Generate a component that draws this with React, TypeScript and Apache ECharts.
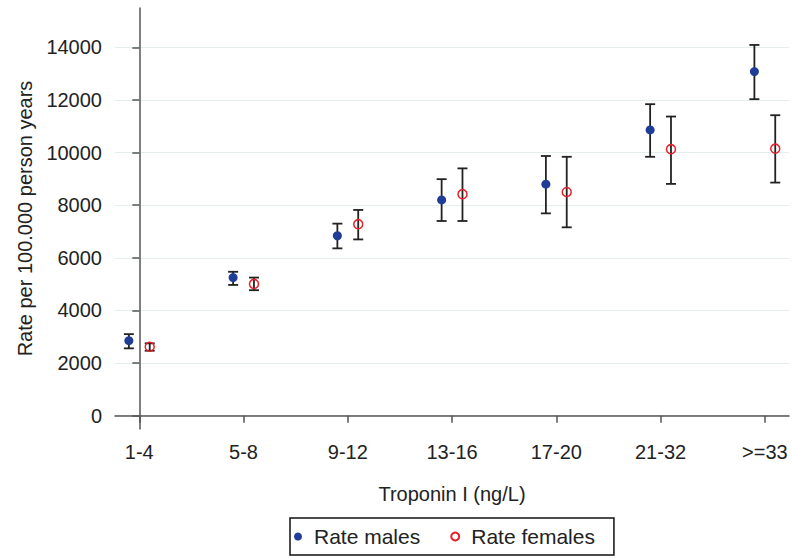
import React, { useEffect, useRef } from "react";
import * as echarts from "echarts";

const categories = ["1-4", "5-8", "9-12", "13-16", "17-20", "21-32", ">=33"];
const maleRate = [2850, 5250, 6840, 8200, 8800, 10860, 13080];
const maleLow = [2560, 4970, 6360, 7400, 7690, 9840, 12030];
const maleHigh = [3100, 5470, 7300, 8990, 9870, 11840, 14090];
const femaleRate = [2620, 5010, 7280, 8420, 8500, 10130, 10150];
const femaleLow = [2470, 4770, 6700, 7400, 7160, 8810, 8860];
const femaleHigh = [2750, 5250, 7820, 9400, 9840, 11370, 11420];
const yTicks = [0, 2000, 4000, 6000, 8000, 10000, 12000, 14000];
const xTicks = [0, 1, 2, 3, 4, 5, 6];

const MALE_OFFSET = -0.1;
const FEMALE_OFFSET = 0.1;
const FONT = "'Liberation Sans', Arial, sans-serif";

export default function App() {
  const ref = useRef<HTMLDivElement>(null);
  useEffect(() => {
    if (!ref.current) return;
    const chart = echarts.init(ref.current, null, { renderer: "svg" });

    const maleErr = categories.map((_, i) => [i + MALE_OFFSET, maleLow[i], maleHigh[i]]);
    const femaleErr = categories.map((_, i) => [i + FEMALE_OFFSET, femaleLow[i], femaleHigh[i]]);
    const maleData = categories.map((_, i) => [i + MALE_OFFSET, maleRate[i]]);
    const femaleData = categories.map((_, i) => [i + FEMALE_OFFSET, femaleRate[i]]);

    const errRender = (params: any, api: any) => {
      const x = api.value(0);
      const lo = api.coord([x, api.value(1)]);
      const hi = api.coord([x, api.value(2)]);
      const w = 5;
      const style = { stroke: "#222", lineWidth: 1.8 };
      return {
        type: "group",
        children: [
          { type: "line", shape: { x1: hi[0], y1: hi[1], x2: lo[0], y2: lo[1] }, style },
          { type: "line", shape: { x1: hi[0] - w, y1: hi[1], x2: hi[0] + w, y2: hi[1] }, style },
          { type: "line", shape: { x1: lo[0] - w, y1: lo[1], x2: lo[0] + w, y2: lo[1] }, style },
        ],
      };
    };

    const option: any = {
      animation: false,
      backgroundColor: "#ffffff",
      textStyle: { fontFamily: FONT },
      grid: { left: 115, right: 4, top: 8, bottom: 129, containLabel: false },
      legend: {
        data: ["Rate males", "Rate females"],
        left: 290,
        top: 518,
        orient: "horizontal",
        icon: "circle",
        itemWidth: 22,
        itemHeight: 8,
        itemGap: 30,
        padding: [8, 19, 8, 4],
        borderColor: "#111",
        borderWidth: 1.5,
        textStyle: { fontSize: 21, color: "#222", fontFamily: FONT },
      },
      xAxis: {
        type: "value",
        min: -0.233,
        max: 6.232,
        name: "Troponin I (ng/L)",
        nameLocation: "middle",
        nameGap: 55,
        nameTextStyle: { fontSize: 20, color: "#222", fontFamily: FONT },
        axisLine: { show: true, lineStyle: { color: "#555", width: 1.5 } },
        axisTick: { show: true, customValues: xTicks, length: 7, lineStyle: { color: "#555", width: 1.5 } },
        axisLabel: {
          customValues: xTicks,
          formatter: (v: number) => categories[Math.round(v)],
          fontSize: 20,
          color: "#222",
          margin: 13,
          fontFamily: FONT,
        },
        splitLine: { show: false },
      },
      yAxis: {
        type: "value",
        min: -505,
        max: 15495,
        name: "Rate per 100.000 person years",
        nameLocation: "middle",
        nameGap: 78,
        nameTextStyle: { fontSize: 20, color: "#222", fontFamily: FONT },
        axisLine: { show: true, lineStyle: { color: "#555", width: 1.5 } },
        axisTick: { show: true, customValues: yTicks, length: 7, lineStyle: { color: "#555", width: 1.5 } },
        axisLabel: {
          customValues: yTicks,
          formatter: (v: number) => String(Math.round(v)),
          fontSize: 20,
          color: "#222",
          margin: 13,
          fontFamily: FONT,
        },
        splitLine: { show: true, lineStyle: { color: "#e3eeee", width: 1.2 } },
      },
      series: [
        {
          type: "custom",
          name: "maleErr",
          renderItem: errRender,
          data: maleErr,
          encode: { x: 0, y: [1, 2] },
          z: 2,
          silent: true,
        },
        {
          type: "custom",
          name: "femaleErr",
          renderItem: errRender,
          data: femaleErr,
          encode: { x: 0, y: [1, 2] },
          z: 2,
          silent: true,
        },
        {
          type: "scatter",
          name: "Rate males",
          data: maleData,
          symbol: "circle",
          symbolSize: 9,
          itemStyle: { color: "#1f3c96", opacity: 1 },
          z: 3,
        },
        {
          type: "scatter",
          name: "Rate females",
          data: femaleData,
          symbol: "circle",
          symbolSize: 9,
          itemStyle: { color: "rgba(255,255,255,0)", borderColor: "#e8202a", borderWidth: 1.5, opacity: 1 },
          z: 3,
        },
      ],
    };
    chart.setOption(option);
    return () => chart.dispose();
  }, []);
  return (
    <div
      ref={ref}
      style={{ position: "fixed", left: 0, top: 0, width: 793, height: 558, background: "#fff" }}
    />
  );
}
